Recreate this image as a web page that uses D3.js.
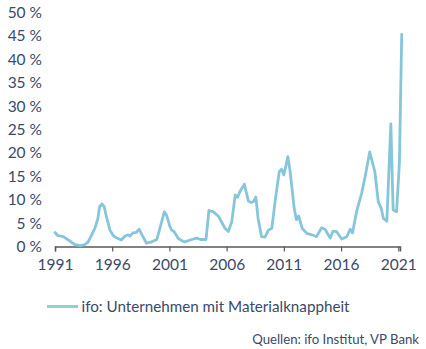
<!DOCTYPE html>
<html><head><meta charset="utf-8">
<script src="https://cdn.jsdelivr.net/npm/d3@7"></script>
<style>
html,body{margin:0;padding:0;background:#fff;}
svg{display:block;font-family:Lato,"Open Sans",sans-serif;}
</style></head>
<body>
<svg id="c" width="426" height="349"></svg>
<script>
const years = [1991.0,1991.26,1991.73,1992.1,1992.5,1992.75,1993.2,1993.6,1993.9,1994.2,1994.5,1994.75,1994.9,1995.1,1995.3,1995.45,1995.8,1996.1,1996.4,1996.8,1997.1,1997.4,1997.55,1997.8,1998.1,1998.35,1998.6,1999.0,1999.45,1999.9,2000.2,2000.55,2000.75,2001.05,2001.2,2001.4,2001.75,2002.1,2002.35,2002.95,2003.4,2003.7,2004.2,2004.45,2004.85,2005.3,2005.5,2005.85,2006.15,2006.45,2006.75,2006.95,2007.15,2007.55,2007.9,2008.15,2008.35,2008.55,2008.75,2009.05,2009.35,2009.65,2009.95,2010.25,2010.6,2010.8,2011.0,2011.35,2011.55,2011.9,2012.1,2012.3,2012.6,2013.0,2013.45,2013.85,2014.3,2014.6,2015.05,2015.3,2015.6,2016.05,2016.5,2016.8,2017.0,2017.35,2017.8,2018.1,2018.5,2018.95,2019.25,2019.5,2019.7,2020.0,2020.35,2020.55,2020.85,2021.1,2021.3];
const values = [3.0,2.3,2.1,1.5,0.8,0.4,0.2,0.4,1.0,2.5,4.0,6.0,8.5,9.1,8.5,6.8,3.5,2.3,1.8,1.4,2.2,2.5,2.2,2.9,3.0,3.7,2.5,0.7,1.0,1.5,4.2,7.4,6.7,4.2,3.5,3.2,1.8,1.2,1.0,1.5,1.8,1.5,1.5,7.7,7.4,6.4,5.5,3.9,3.2,5.3,11.0,10.5,11.7,13.3,9.7,9.4,9.6,10.6,6.0,2.1,2.0,3.5,3.9,9.9,16.0,16.5,15.3,19.2,16.0,8.2,5.7,6.5,3.9,2.8,2.5,2.1,4.0,3.7,1.8,3.3,3.2,1.6,2.1,3.7,2.9,7.4,11.4,14.9,20.2,16.0,9.6,8.2,6.0,5.4,26.2,7.8,7.4,18.0,45.3];
const xTicks = [1991,1996,2001,2006,2011,2016,2021];
const yTicks = [0,5,10,15,20,25,30,35,40,45,50];
const seriesName = "ifo: Unternehmen mit Materialknappheit";
const sourceText = "Quellen: ifo Institut, VP Bank";

const svg = d3.select("#c");
const textColor = "#3a4a68";
const lineColor = "#86c6da";

const x = d3.scaleLinear().domain([1991, 2021.15]).range([55, 400]);
const y = d3.scaleLinear().domain([0, 50]).range([246.5, 12.5]);

// y labels
svg.append("g").selectAll("text").data(yTicks).join("text")
  .attr("x", 42).attr("y", d => y(d)).attr("dy", "0.35em")
  .attr("text-anchor", "end").attr("font-size", 15.5).attr("fill", textColor)
  .text(d => d + " %");

// x axis
const xAxis = d3.axisBottom(x).tickValues(xTicks).tickFormat(d3.format("d")).tickSize(5).tickPadding(7);
const gx = svg.append("g").attr("transform", `translate(0,${y(0)})`).call(xAxis);
gx.select(".domain").attr("stroke", "#5a5a5a").attr("stroke-width", 1.5);
gx.selectAll(".tick line").attr("stroke", "#5a5a5a").attr("stroke-width", 1.2);
gx.selectAll(".tick text").attr("font-size", 15.5).attr("fill", textColor).attr("font-family", "Lato, sans-serif");

// line
const data = years.map((yr, i) => ({yr, v: values[i]}));
svg.append("path").datum(data)
  .attr("fill", "none").attr("stroke", lineColor).attr("stroke-width", 2.8)
  .attr("stroke-linejoin", "round").attr("stroke-linecap", "round")
  .attr("d", d3.line().x(d => x(d.yr)).y(d => y(d.v)));

// legend
svg.append("line").attr("x1", 47).attr("x2", 78).attr("y1", 306.5).attr("y2", 306.5)
  .attr("stroke", "#8fd0d8").attr("stroke-width", 3);
svg.append("text").attr("x", 81.5).attr("y", 306.5).attr("dy", "0.35em")
  .attr("font-size", 15.2).attr("fill", textColor).text(seriesName);

// source
svg.append("text").attr("x", 419).attr("y", 339).attr("dy", "0.35em")
  .attr("text-anchor", "end").attr("font-size", 13.2).attr("fill", textColor).text(sourceText);
</script>
</body></html>
